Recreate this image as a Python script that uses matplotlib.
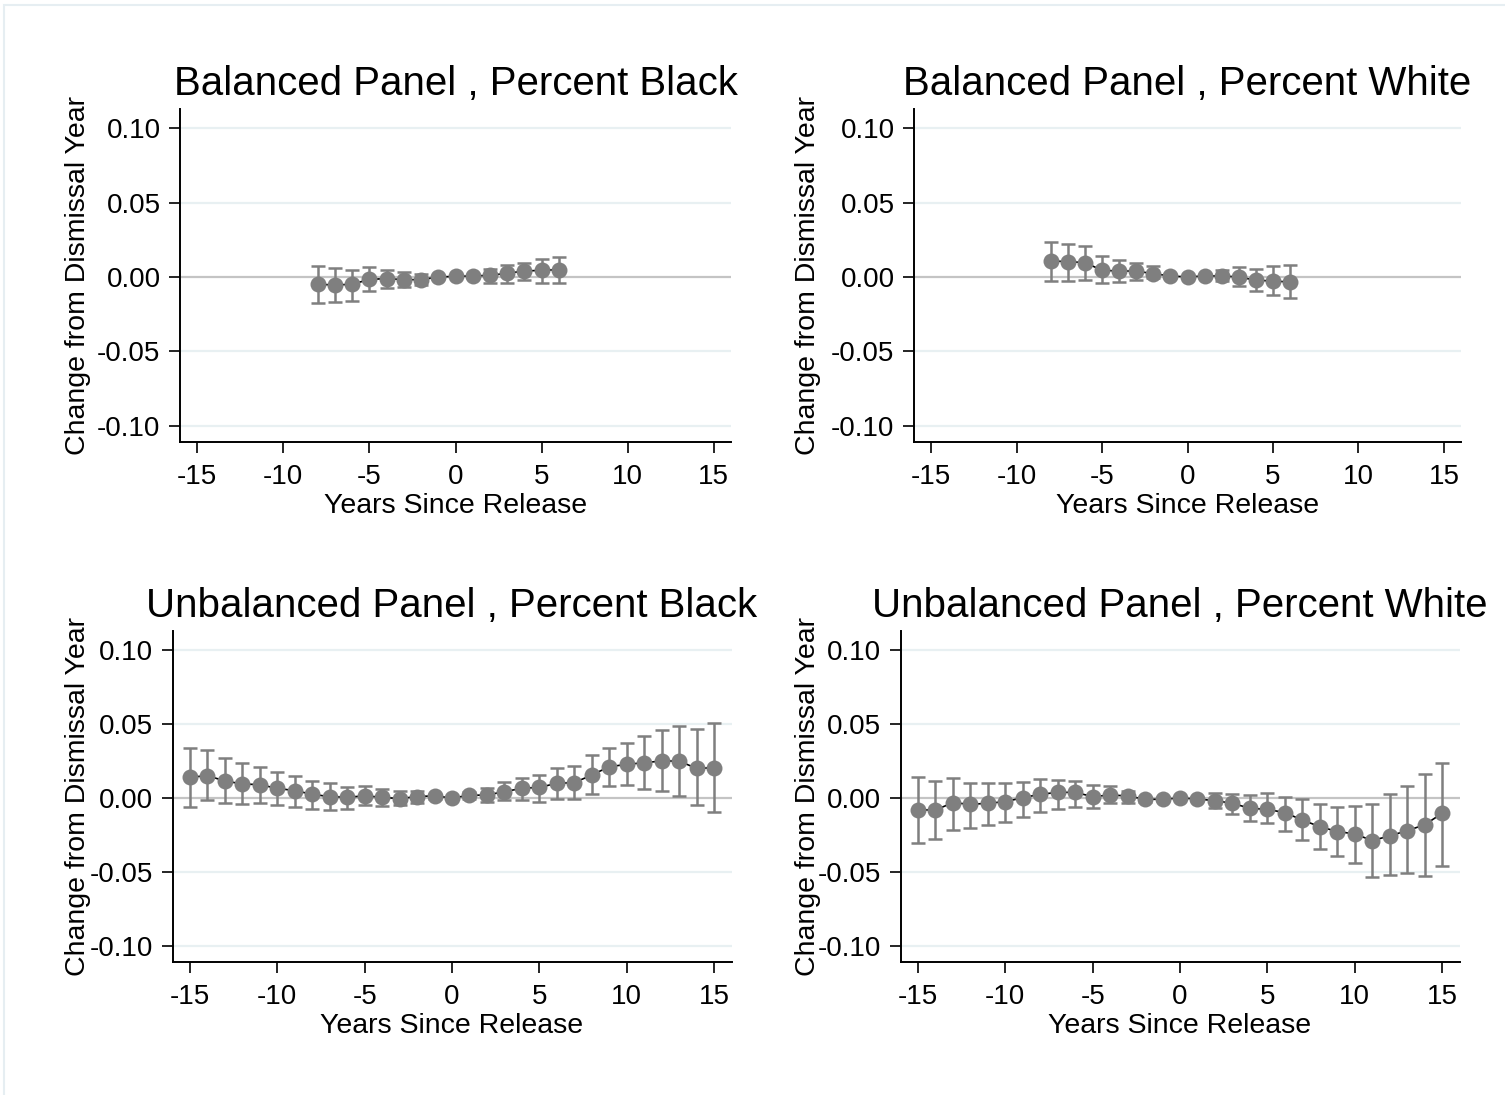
import numpy as np
import matplotlib
matplotlib.use('Agg')
import matplotlib.pyplot as plt
import matplotlib.patches as mpatches

plt.rcParams['font.family'] = ['Liberation Sans', 'DejaVu Sans']

# Event-time estimates (change from dismissal year) with 95% CI
years_bal = [-8, -7, -6, -5, -4, -3, -2, -1, 0, 1, 2, 3, 4, 5, 6]
years_unbal = list(range(-15, 16))

bal_black = [-0.0049, -0.0054, -0.0049, -0.0016, -0.0011, -0.0018, -0.0018, 0.0000,
             0.0004, 0.0007, 0.0011, 0.0025, 0.0040, 0.0045, 0.0049]
bal_black_lo = [-0.0173, -0.0166, -0.0162, -0.0094, -0.0076, -0.0067, -0.0056, -0.0015,
                0.0000, -0.0008, -0.0038, -0.0038, -0.0022, -0.0043, -0.0040]
bal_black_hi = [0.0072, 0.0058, 0.0045, 0.0067, 0.0047, 0.0034, 0.0022, 0.0015,
                0.0008, 0.0022, 0.0052, 0.0079, 0.0097, 0.0119, 0.0135]

bal_white = [0.0108, 0.0103, 0.0097, 0.0045, 0.0040, 0.0040, 0.0022, 0.0007,
             0.0000, 0.0007, 0.0007, 0.0000, -0.0022, -0.0027, -0.0034]
bal_white_lo = [-0.0027, -0.0027, -0.0022, -0.0038, -0.0031, -0.0022, -0.0004, -0.0008,
                0.0000, -0.0008, -0.0027, -0.0060, -0.0094, -0.0121, -0.0144]
bal_white_hi = [0.0238, 0.0225, 0.0207, 0.0142, 0.0112, 0.0094, 0.0074, 0.0022,
                0.0000, 0.0022, 0.0045, 0.0067, 0.0052, 0.0074, 0.0081]

unbal_black = [0.0140, 0.0151, 0.0115, 0.0095, 0.0090, 0.0065, 0.0050, 0.0025, 0.0009,
               0.0005, 0.0014, 0.0005, -0.0005, 0.0010, 0.0014, 0.0000, 0.0018, 0.0020,
               0.0043, 0.0065, 0.0072, 0.0099, 0.0104, 0.0155, 0.0212, 0.0227, 0.0239,
               0.0250, 0.0250, 0.0200, 0.0205]
unbal_black_lo = [-0.0059, -0.0014, -0.0036, -0.0043, -0.0036, -0.0047, -0.0063, -0.0077,
                  -0.0081, -0.0077, -0.0047, -0.0054, -0.0047, -0.0032, -0.0005, 0.0000,
                  -0.0005, -0.0025, -0.0014, -0.0014, -0.0025, -0.0009, -0.0009, 0.0027,
                  0.0081, 0.0088, 0.0059, 0.0050, 0.0014, -0.0047, -0.0097]
unbal_black_hi = [0.0336, 0.0324, 0.0268, 0.0234, 0.0212, 0.0178, 0.0151, 0.0115, 0.0099,
                  0.0077, 0.0081, 0.0059, 0.0047, 0.0047, 0.0030, 0.0000, 0.0040, 0.0065,
                  0.0110, 0.0133, 0.0155, 0.0200, 0.0216, 0.0290, 0.0336, 0.0369, 0.0419,
                  0.0459, 0.0486, 0.0464, 0.0505]

unbal_white = [-0.0081, -0.0081, -0.0032, -0.0043, -0.0036, -0.0025, 0.0002, 0.0025,
               0.0038, 0.0038, 0.0009, 0.0020, 0.0014, -0.0009, -0.0009, 0.0000, -0.0007,
               -0.0018, -0.0036, -0.0070, -0.0077, -0.0099, -0.0149, -0.0194, -0.0227,
               -0.0243, -0.0288, -0.0257, -0.0221, -0.0182, -0.0104]
unbal_white_lo = [-0.0306, -0.0277, -0.0216, -0.0205, -0.0182, -0.0160, -0.0126, -0.0092,
                  -0.0077, -0.0059, -0.0070, -0.0036, -0.0032, -0.0025, -0.0020, 0.0000,
                  -0.0020, -0.0070, -0.0108, -0.0153, -0.0171, -0.0221, -0.0284, -0.0347,
                  -0.0396, -0.0441, -0.0532, -0.0520, -0.0509, -0.0527, -0.0459]
unbal_white_hi = [0.0144, 0.0117, 0.0133, 0.0099, 0.0099, 0.0099, 0.0110, 0.0126, 0.0122,
                  0.0117, 0.0088, 0.0081, 0.0050, 0.0008, 0.0005, 0.0000, 0.0006, 0.0032,
                  0.0027, 0.0020, 0.0032, 0.0009, -0.0009, -0.0041, -0.0059, -0.0054,
                  -0.0041, 0.0027, 0.0081, 0.0162, 0.0239]

titles = ['Balanced Panel , Percent Black', 'Balanced Panel , Percent White',
          'Unbalanced Panel , Percent Black', 'Unbalanced Panel , Percent White']
yticks = [-0.10, -0.05, 0.00, 0.05, 0.10]
xticks = [-15, -10, -5, 0, 5, 10, 15]

W, H = 1505, 1095
fig = plt.figure(figsize=(W / 100, H / 100), dpi=100)

# light outer frame (Stata graph region)
fig.patches.append(mpatches.Rectangle((4 / W, -0.1), 1.2, 1 - 5 / H + 0.1,
                                      transform=fig.transFigure, fill=False,
                                      edgecolor='#e6eef2', linewidth=1.5))

# axes boxes in pixels: left, right, top, bottom, y-label x
boxes = [(180, 731, 109, 442, 78), (914, 1461, 109, 442, 808),
         (172.5, 731.5, 631, 962, 78), (900.5, 1459.5, 631, 962, 808)]

panels = [(years_bal, bal_black, bal_black_lo, bal_black_hi),
          (years_bal, bal_white, bal_white_lo, bal_white_hi),
          (years_unbal, unbal_black, unbal_black_lo, unbal_black_hi),
          (years_unbal, unbal_white, unbal_white_lo, unbal_white_hi)]

gray = '#7f7f7f'
for i, (box, (x, y, lo, hi)) in enumerate(zip(boxes, panels)):
    l, r, t, b, lx = box
    ax = fig.add_axes([l / W, 1 - b / H, (r - l) / W, (b - t) / H])
    x = np.array(x)
    y = np.array(y)
    lo = np.array(lo)
    hi = np.array(hi)

    for yy in [-0.10, -0.05, 0.05, 0.10]:
        ax.axhline(yy, color='#e8f0f2', linewidth=1.6, zorder=0)
    ax.axhline(0, color='#c4c4c4', linewidth=1.6, zorder=1)

    ax.errorbar(x, y, yerr=[y - lo, hi - y], fmt='none', ecolor=gray,
                elinewidth=1.8, capsize=4.7, capthick=1.8, zorder=2)
    ax.plot(x, y, color='black', linewidth=1.2, zorder=3)
    ax.plot(x, y, 'o', color=gray, markersize=11.5, markeredgewidth=0, zorder=4)

    ax.set_xlim(-16, 16)
    ax.set_ylim(-0.111, 0.113)
    ax.set_xticks(xticks)
    ax.set_yticks(yticks)
    ax.set_yticklabels(['%.2f' % v for v in yticks])
    ax.set_xticklabels([str(v) for v in xticks])
    ax.tick_params(axis='both', direction='out', length=8, width=1.2,
                   labelsize=20, colors='black')
    ax.tick_params(axis='x', pad=8)
    ax.tick_params(axis='y', pad=6)
    for s in ['top', 'right']:
        ax.spines[s].set_visible(False)
    for s in ['left', 'bottom']:
        ax.spines[s].set_linewidth(1.4)
        ax.spines[s].set_color('black')

    ax.set_title(titles[i], fontsize=29, pad=10)
    ax.set_xlabel('Years Since Release', fontsize=20.5, labelpad=2)
    fig.text(lx / W, 1 - ((t + b) / 2) / H, 'Change from Dismissal Year',
             rotation=90, ha='center', va='center', fontsize=20.5)

fig.savefig('out.png', dpi=100, facecolor='white')
